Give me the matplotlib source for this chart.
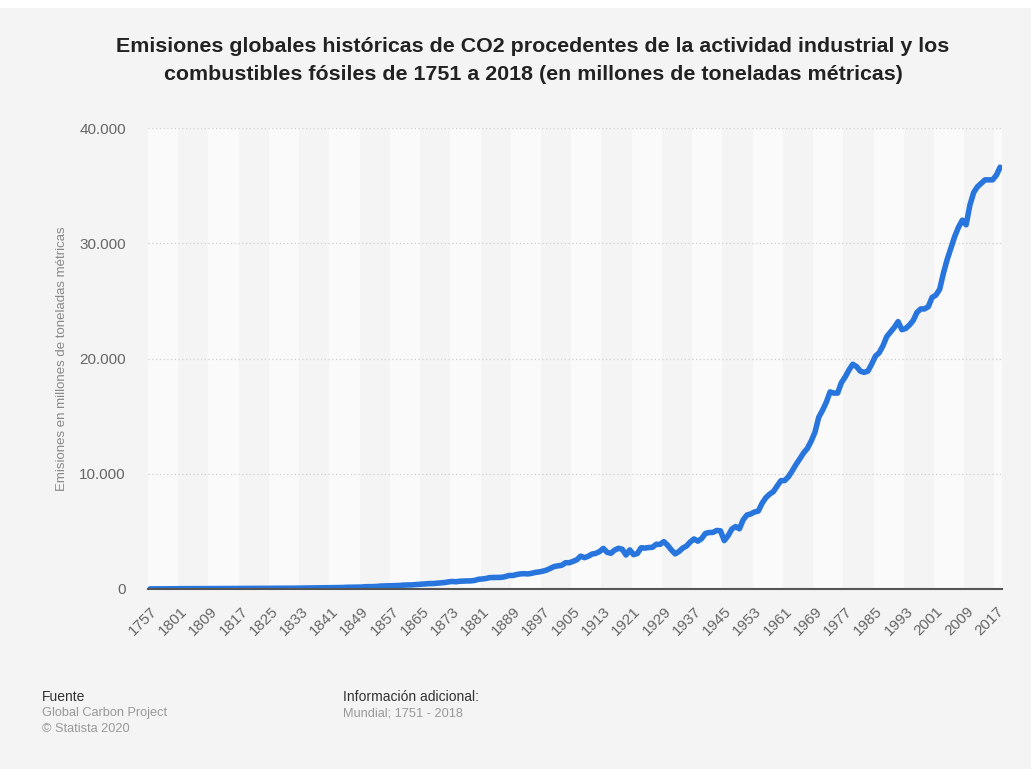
"""
Global CO2 emissions from fossil fuels and industry, 1751-2018 (Statista style).
"""
import matplotlib
matplotlib.use("Agg")
import matplotlib.pyplot as plt
from matplotlib.patches import Rectangle
from matplotlib.ticker import FuncFormatter

plt.rcParams["font.family"] = ["Liberation Sans", "DejaVu Sans"]

# categories: a few early years, then annual 1801-2018
early_years = [1757, 1760, 1765, 1770, 1775, 1780, 1790, 1800]
years = early_years + list(range(1801, 2019))

# million metric tons of CO2
early_values = [9, 10, 11, 11, 13, 14, 19, 28]
annual_values = [
    28, 30, 30, 31, 32, 32, 33, 34, 34, 36,                      # 1801-1810
    38, 38, 39, 42, 43, 46, 48, 48, 49, 51,                      # 1811-1820
    51, 53, 54, 58, 62, 62, 65, 64, 65, 71,                      # 1821-1830
    70, 74, 79, 81, 86, 96, 98, 103, 107, 113,                   # 1831-1840
    118, 121, 125, 130, 147, 150, 161, 162, 168, 197,            # 1841-1850
    198, 206, 219, 253, 260, 275, 286, 289, 305, 333,            # 1851-1860
    348, 351, 374, 399, 422, 440, 469, 474, 501, 519,            # 1861-1870
    562, 617, 655, 626, 674, 690, 701, 705, 750, 844,            # 1871-1880
    870, 917, 990, 995, 993, 1010, 1070, 1170, 1170, 1250,       # 1881-1890
    1310, 1330, 1310, 1360, 1440, 1480, 1550, 1640, 1800, 1950,  # 1891-1900
    2010, 2060, 2280, 2280, 2400, 2540, 2850, 2720, 2840, 3030,  # 1901-1910
    3090, 3250, 3520, 3180, 3100, 3380, 3530, 3450, 2950, 3390,  # 1911-1920
    2980, 3080, 3580, 3550, 3600, 3620, 3880, 3870, 4110, 3800,  # 1921-1930
    3390, 3050, 3250, 3550, 3730, 4080, 4340, 4150, 4370, 4820,  # 1931-1940
    4900, 4910, 5080, 5050, 4200, 4620, 5200, 5420, 5220, 6000,  # 1941-1950
    6420, 6510, 6680, 6760, 7430, 7920, 8230, 8450, 8940, 9400,  # 1951-1960
    9410, 9750, 10260, 10810, 11300, 11810, 12200, 12830, 13600, 14900,  # 1961-1970
    15500, 16200, 17100, 17000, 17000, 17900, 18400, 19000, 19500, 19300,  # 1971-1980
    18900, 18800, 18900, 19500, 20200, 20500, 21100, 21900, 22300, 22700,  # 1981-1990
    23200, 22500, 22600, 22900, 23300, 24000, 24300, 24300, 24500, 25300,  # 1991-2000
    25500, 26000, 27400, 28600, 29600, 30600, 31400, 32000, 31600, 33300,  # 2001-2010
    34400, 34900, 35200, 35500, 35500, 35500, 35900, 36600,      # 2011-2018
]
values = early_values + annual_values

y_ticks = [0, 10000, 20000, 30000, 40000]

title = ("Emisiones globales históricas de CO2 procedentes de la actividad industrial y los\n"
         "combustibles fósiles de 1751 a 2018 (en millones de toneladas métricas)")
y_label = "Emisiones en millones de toneladas métricas"

W, H = 1031, 769
fig = plt.figure(figsize=(W / 100, H / 100), dpi=100, facecolor="white")
fig.patches.append(Rectangle((0, 0), 1, 1 - 8 / H, transform=fig.transFigure,
                             facecolor="#f4f4f4", edgecolor="none", zorder=-10))

ax = fig.add_axes([148 / W, 1 - 589 / H, (1002 - 148) / W, (589 - 128) / H])
ax.set_facecolor("#f4f4f4")
n = len(years)
ax.set_xlim(-0.5, n - 0.5)
ax.set_ylim(0, 40000)

# alternating bands every 8 categories
for b, start in enumerate(range(0, n, 8)):
    if b % 2 == 0:
        ax.axvspan(start - 0.5, min(start + 7.5, n - 0.5), color="#fafafa", lw=0, zorder=0)

for yv in y_ticks[1:]:
    ax.axhline(yv, color="#cfcfcf", lw=0.9, ls=(0, (1, 2)), zorder=1)

ax.plot(range(n), values, color="#2876dd", lw=4.0, solid_joinstyle="round",
        solid_capstyle="round", zorder=3)

for s in ("top", "right", "left"):
    ax.spines[s].set_visible(False)
ax.spines["bottom"].set_color("#555555")
ax.spines["bottom"].set_linewidth(1.5)
ax.spines["bottom"].set_zorder(4)

ax.set_yticks(y_ticks)
ax.yaxis.set_major_formatter(FuncFormatter(lambda v, p: f"{int(v):,}".replace(",", ".")))
ax.tick_params(axis="y", length=0, pad=16, labelsize=11, labelcolor="#666666")

tick_idx = list(range(0, n, 8))
ax.set_xticks(tick_idx)
ax.set_xticklabels([str(years[i]) for i in tick_idx], rotation=45, ha="right",
                   rotation_mode="anchor")
ax.tick_params(axis="x", length=0, pad=11, labelsize=11, labelcolor="#666666")

fig.text(62 / W, 1 - 359 / H, y_label, rotation=90, ha="center", va="center",
         fontsize=9.5, color="#888888")

fig.text(533 / W, 1 - 61 / H, title, ha="center", va="center", fontsize=15.4,
         fontweight="bold", color="#222222", linespacing=1.6)

# footer
fig.text(42 / W, 1 - 697 / H, "Fuente", fontsize=10, color="#333333", va="center")
fig.text(42 / W, 1 - 713 / H, "Global Carbon Project", fontsize=9.2, color="#999999", va="center")
fig.text(42 / W, 1 - 729 / H, "© Statista 2020", fontsize=9.2, color="#999999", va="center")
fig.text(343 / W, 1 - 697 / H, "Información adicional:", fontsize=10, color="#333333", va="center")
fig.text(343 / W, 1 - 713 / H, "Mundial; 1751 - 2018", fontsize=9.2, color="#999999", va="center")

fig.savefig("out.png", dpi=100, facecolor=fig.get_facecolor())
